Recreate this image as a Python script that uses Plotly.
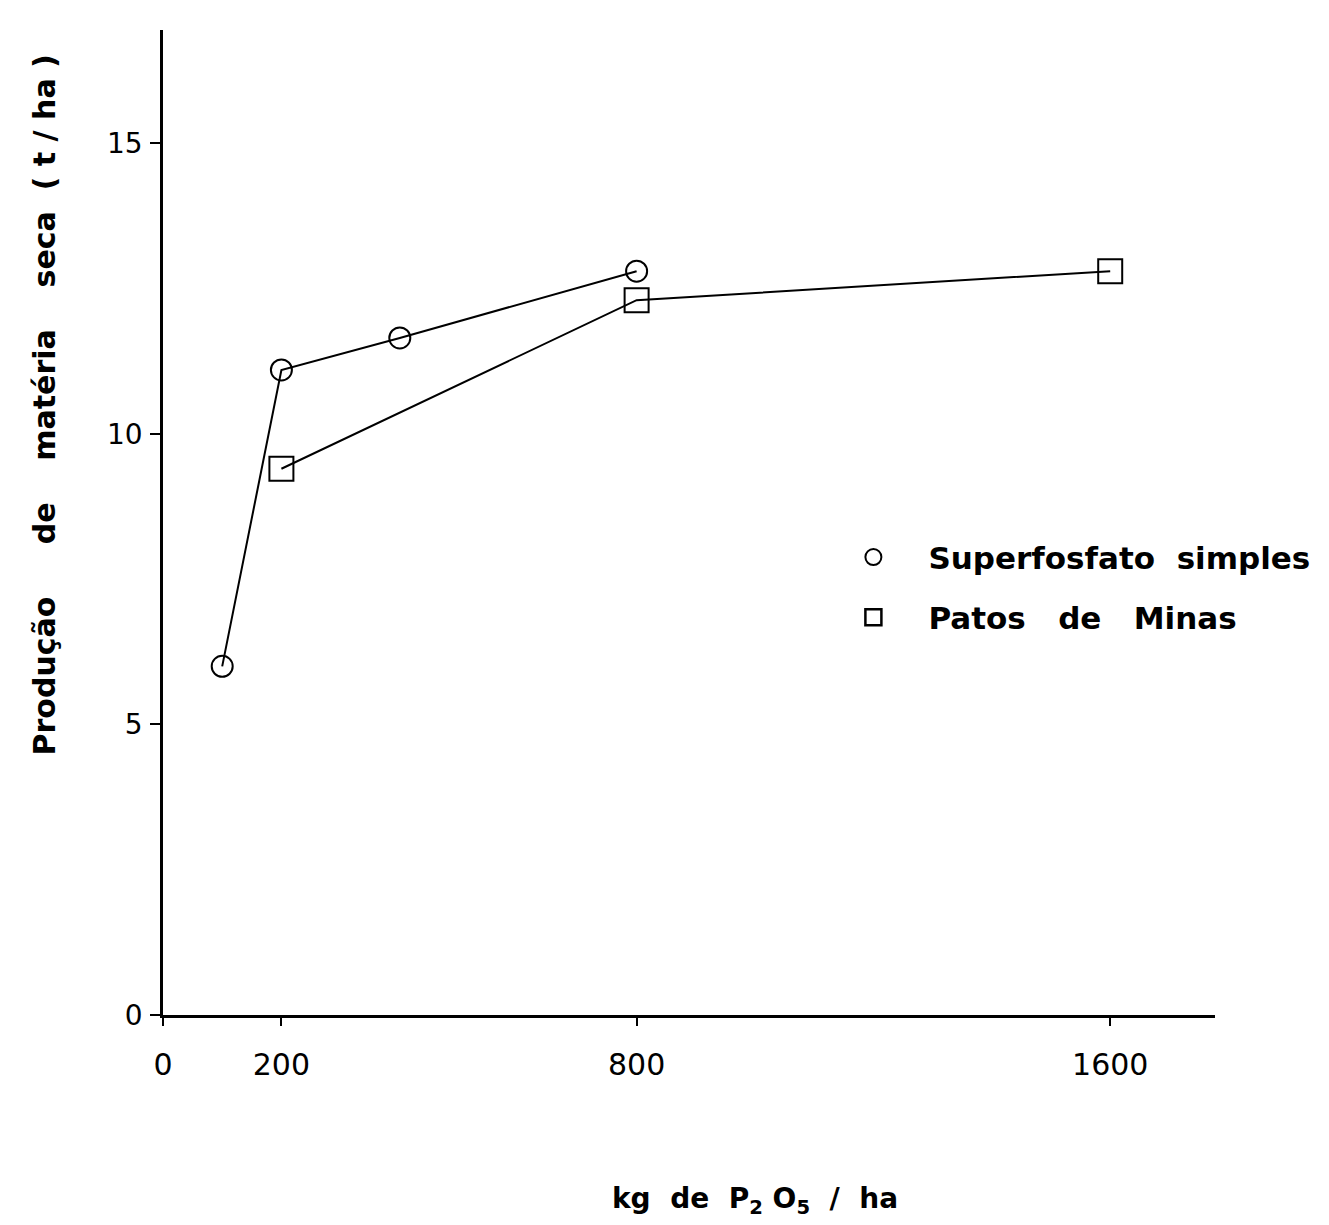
import plotly.graph_objects as go

# Dry-matter yield (t/ha) versus P2O5 dose (kg/ha) for two phosphate sources
sup_x = [100, 200, 400, 800]
sup_y = [6.0, 11.1, 11.65, 12.8]
pat_x = [200, 800, 1600]
pat_y = [9.4, 12.3, 12.8]

NBSP = "\u00a0"
sup_name = "Superfosfato" + NBSP * 2 + "simples"
pat_name = "Patos" + NBSP * 3 + "de" + NBSP * 3 + "Minas"

x_ticks = [0, 200, 800, 1600]
x_labels = ["0", "200", "800", "1600"]
y_ticks = [0, 5, 10, 15]
y_labels = ["0", "5", "10", "15"]

y_title = ("Produção" + NBSP * 5 + "de" + NBSP * 4 + "matéria" + NBSP * 4 + "seca" + NBSP * 2 +
           "(" + NBSP + "t" + NBSP + "/" + NBSP + "ha" + NBSP + ")")
x_title = ("kg" + NBSP * 2 + "de" + NBSP * 2 + "P<sub>2</sub>" + NBSP + "O<sub>5</sub>" +
           NBSP * 2 + "/" + NBSP * 2 + "ha")

line_style = dict(color="black", width=2)
circle = dict(symbol="circle-open", size=21, color="black", line=dict(width=2, color="black"))
square = dict(symbol="square-open", size=24, color="black", line=dict(width=2, color="black"))

fig = go.Figure()
fig.add_trace(go.Scatter(x=sup_x, y=sup_y, mode="lines+markers", line=line_style,
                         marker=circle, showlegend=False))
fig.add_trace(go.Scatter(x=pat_x, y=pat_y, mode="lines+markers", line=line_style,
                         marker=square, showlegend=False))
# marker-only entries for the legend
fig.add_trace(go.Scatter(x=[None], y=[None], mode="markers", name=sup_name,
                         marker=dict(symbol="circle-open", size=20, color="black",
                                     line=dict(width=2, color="black")),
                         legendgroup="a"))
fig.add_trace(go.Scatter(x=[None], y=[None], mode="markers", name=pat_name,
                         marker=dict(symbol="square-open", size=24, color="black",
                                     line=dict(width=2.5, color="black")),
                         legendgroup="b"))

fig.update_layout(
    width=1329, height=1225,
    margin=dict(l=163, r=114, t=30, b=210, autoexpand=False),
    paper_bgcolor="white", plot_bgcolor="white",
    font=dict(family="DejaVu Sans", color="black", size=28),
    legend=dict(x=0.623, y=0.492, xanchor="left", yanchor="top",
                font=dict(family="DejaVu Sans", size=31, color="black", weight="bold"),
                bgcolor="rgba(0,0,0,0)", tracegroupgap=17, itemwidth=100,
                itemsizing="trace"),
    xaxis=dict(range=[0, 1777], showline=True, linecolor="black", linewidth=2.5,
               showgrid=False, zeroline=False, ticks="outside", ticklen=8,
               tickwidth=2, tickcolor="black", tickvals=x_ticks, ticktext=x_labels,
               ticklabelstandoff=13, tickfont=dict(size=30)),
    yaxis=dict(range=[0, 16.95], showline=True, linecolor="black", linewidth=2.5,
               showgrid=False, zeroline=False, ticks="outside", ticklen=10,
               tickwidth=2, tickcolor="black", tickvals=y_ticks, ticktext=y_labels,
               ticklabelstandoff=2, tickfont=dict(size=28)),
    annotations=[
        dict(text=y_title, textangle=-90, xref="paper", yref="paper",
             x=-0.113, y=0.619, xanchor="center", yanchor="middle", showarrow=False,
             font=dict(size=30, weight="bold")),
        dict(text=x_title, xref="paper", yref="paper", x=0.563, y=-0.188,
             xanchor="center", yanchor="middle", showarrow=False,
             font=dict(size=28, weight="bold")),
    ],
)

fig.write_html("out.html")
